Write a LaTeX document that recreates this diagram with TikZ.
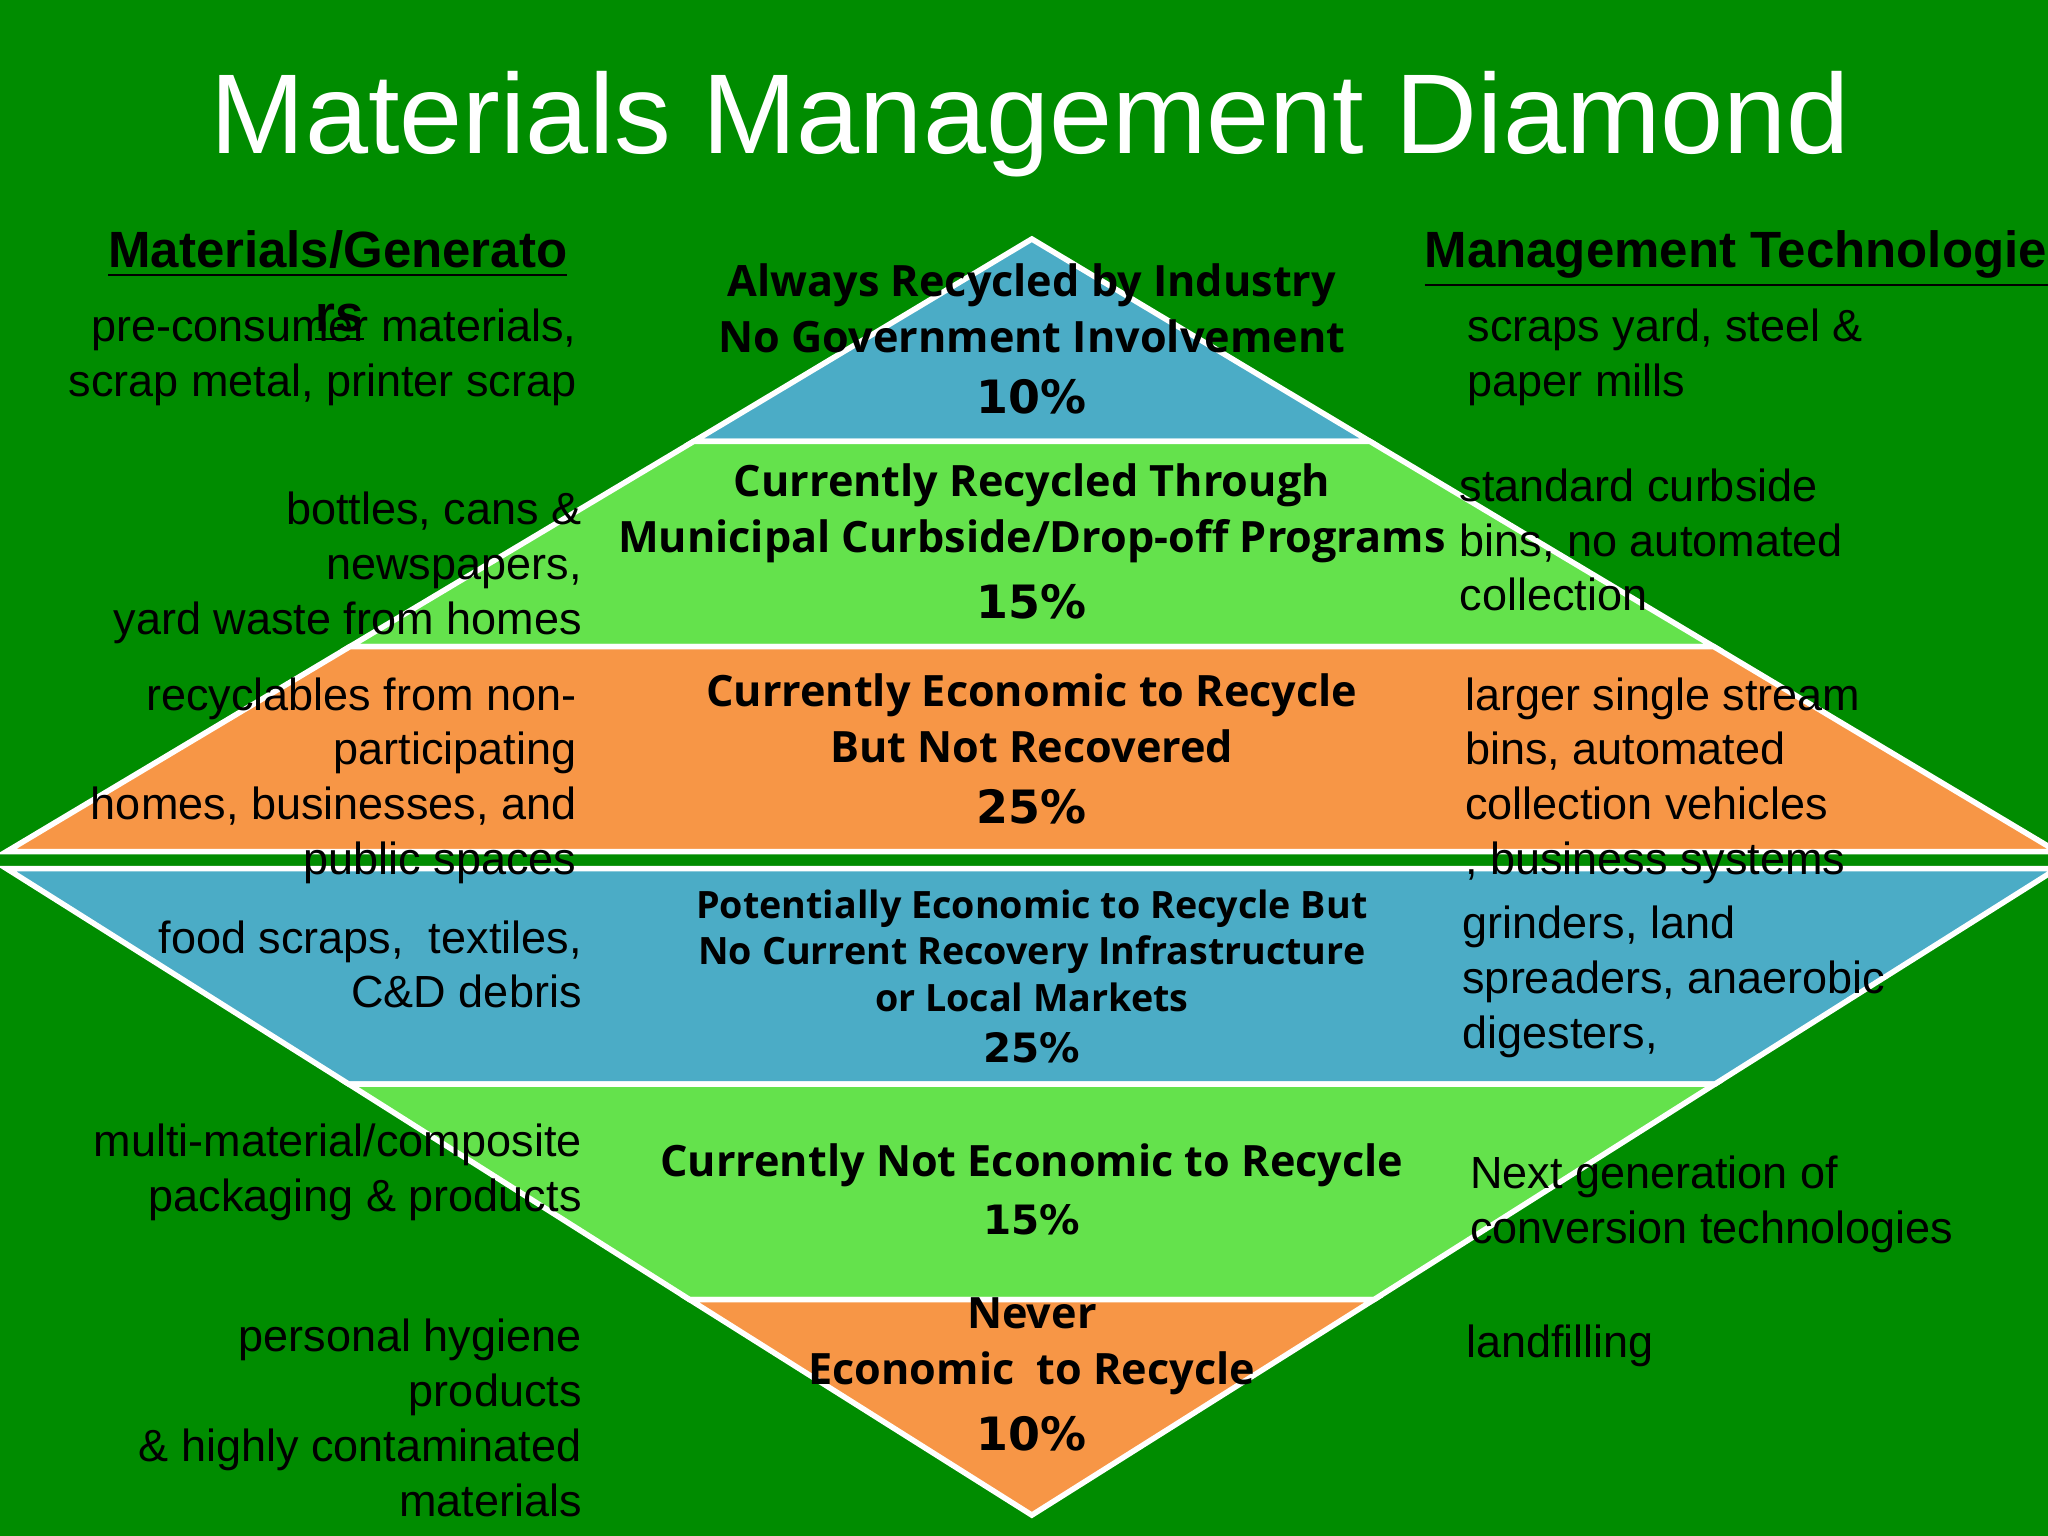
\documentclass[tikz,border=0pt]{standalone}
\usepackage{fontspec}
\setmainfont{Liberation Sans}
\newfontfamily\bandfont{Open Sans}
\newfontfamily\pctfont{DejaVu Sans}
\definecolor{bg}{RGB}{0,140,0}
\definecolor{bblue}{RGB}{75,172,198}
\definecolor{bgreen}{RGB}{100,226,76}
\definecolor{borange}{RGB}{247,150,70}
\tikzset{
 band/.style={draw=white,line width=1.2pt},
 bandtxt/.style={font=\bandfont\bfseries\fontsize{9.4}{12.2}\selectfont,align=center,inner sep=0,text=black},
 pct/.style={font=\pctfont\bfseries\fontsize{10}{12}\selectfont,inner sep=0},
 lefttxt/.style={font=\fontsize{9.8}{11.95}\selectfont,align=right,anchor=north east,inner sep=0},
 righttxt/.style={font=\fontsize{9.8}{11.95}\selectfont,align=left,anchor=north west,inner sep=0},
 head/.style={font=\bfseries\fontsize{11.1}{12}\selectfont,inner sep=0}
}
\begin{document}
\begin{tikzpicture}[x=0.01cm,y=-0.01cm]
\useasboundingbox (0,0) rectangle (1568,1176);
\clip (0,0) rectangle (1568,1176);
\fill[bg] (0,0) rectangle (1568,1176);
% upper triangle
\filldraw[band,fill=bblue] (790,183) -- (1049,338) -- (531,338) -- cycle;
\filldraw[band,fill=bgreen] (531,338) -- (1049,338) -- (1312,495) -- (268,495) -- cycle;
\filldraw[band,fill=borange] (268,495) -- (1312,495) -- (1575,652) -- (5,652) -- cycle;
% lower triangle
\filldraw[band,fill=bblue] (5,665) -- (1575,665) -- (1313,830) -- (267,830) -- cycle;
\filldraw[band,fill=bgreen] (267,830) -- (1313,830) -- (1052,995) -- (528,995) -- cycle;
\filldraw[band,fill=borange] (528,995) -- (1052,995) -- (790,1160) -- cycle;
% title
\node[font=\fontsize{24.7}{27}\selectfont,text=white,inner sep=0] (title) at (789,95) {Materials Management Diamond};
% headers
\node[head,anchor=base east] (hl) at (435,205) {\underline{Materials/Generato}};
\node[head,anchor=base] (hl2) at (260,254) {\underline{rs}};
\node[head,anchor=base west] (hr) at (1090,205) {\underline{Management Technologies}};
% band texts
\node[bandtxt] (b1) at (790,236) {Always Recycled by Industry\\No Government Involvement};
\node[pct] (p1) at (790,304) {10\%};
\node[bandtxt] (b2) at (790,393) {Currently Recycled Through\\Municipal Curbside/Drop-off Programs};
\node[pct] (p2) at (790,461) {15\%};
\node[bandtxt] (b3) at (790,550) {Currently Economic to Recycle\\But Not Recovered};
\node[pct] (p3) at (790,618) {25\%};
\node[bandtxt,font=\bandfont\bfseries\fontsize{8.2}{10.2}\selectfont] (b4) at (790,728) {Potentially Economic to Recycle But\\No Current Recovery Infrastructure\\or Local Markets};
\node[pct,font=\pctfont\bfseries\fontsize{8.8}{10}\selectfont] (p4) at (790,802) {25\%};
\node[bandtxt] (b5) at (790,892) {Currently Not Economic to Recycle};
\node[pct,font=\pctfont\bfseries\fontsize{8.8}{10}\selectfont] (p5) at (790,934) {15\%};
\node[bandtxt] (b6) at (790,1031) {Never\\Economic\ \ to Recycle};
\node[pct] (p6) at (790,1098) {10\%};
% left texts
\node[lefttxt] (l1) at (442,236) {pre-consumer materials,\\scrap metal, printer scrap};
\node[lefttxt] (l2) at (446,376) {bottles, cans \&\\newspapers,\\yard waste from homes};
\node[lefttxt] (l3) at (442,518) {recyclables from non-\\participating\\homes, businesses, and\\public spaces};
\node[lefttxt] (l4) at (446,704) {food scraps,\ \ textiles,\\C\&D debris};
\node[lefttxt] (l5) at (446,860) {multi-material/composite\\packaging \& products};
\node[lefttxt] (l6) at (446,1009) {personal hygiene\\products\\\& highly contaminated\\materials};
% right texts
\node[righttxt] (r1) at (1123,236) {scraps yard, steel \&\\paper mills};
\node[righttxt] (r2) at (1117,358) {standard curbside\\bins, no automated\\collection};
\node[righttxt] (r3) at (1121,518) {larger single stream\\bins, automated\\collection vehicles\\, business systems};
\node[righttxt] (r4) at (1119,693) {grinders, land\\spreaders, anaerobic\\digesters,};
\node[righttxt] (r5) at (1125,884) {Next generation of\\conversion technologies};
\node[righttxt] (r6) at (1122,1014) {landfilling};
\end{tikzpicture}
\end{document}
